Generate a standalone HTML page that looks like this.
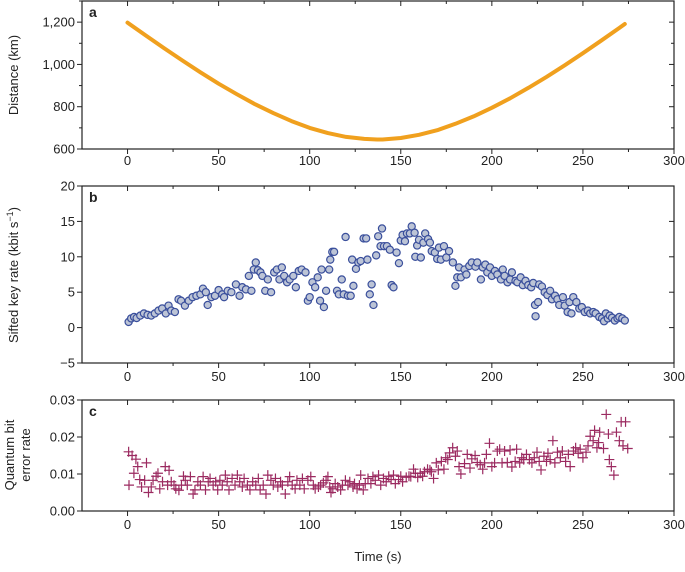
<!DOCTYPE html>
<html><head><meta charset="utf-8"><style>
html,body{margin:0;padding:0;background:#fff;}
svg text{font-family:"Liberation Sans",sans-serif;fill:#222;}
</style></head><body>
<svg id="chart" width="685" height="567" viewBox="0 0 685 567" xmlns="http://www.w3.org/2000/svg"></svg>
<script>
// Panel a: distance
const distT=[0,10,20,30,40,50,60,70,80,90,100,110,120,130,137,140,150,160,170,180,190,200,210,220,230,240,250,260,270,273];
const distV=[1198,1137,1077,1019,963,909,859,812,770,732,700,675,657,648,645,645,652,667,689,719,754,795,840,889,941,996,1053,1112,1173,1191];
// Panel b: sifted key rate
const keyT=[0.6,2,3.6,5,7,9,11,13,15,17,19,21,22.5,24,26,28,29.4,31.5,33.6,35.7,37.8,40,41.4,43,44,46,48,50,52,53,55,57,59.5,61.5,63,65,66.6,68,69.3,70.4,71.6,73,74,75.6,77,78.8,80.5,82,83.4,84.7,86,87.6,89,91,92.4,94,95.6,97.7,99,100,101.5,103,104.4,105.7,106.5,107.8,109,110.7,111.3,112.4,113.4,115,116,117.6,118.7,119.7,121,122.5,123.3,124,125.4,126.7,128,129.6,131,131.7,133,134,135,136.5,137.6,138.9,139.7,140.8,142.4,144,145,146,147.7,149,150,151,152.3,153.4,155,156,157.6,158,159,160,161,162.4,163.4,165,166,167,168.7,170,171,172,173.7,175,176.5,178.6,180,181,182,183,185,186,187.6,189,191,192,194,195,196.4,197.5,199,200,201.7,203,205,206,207,208.6,210,211,213,214,215.8,217,218.5,220,221.6,222.7,223.7,224,225.4,226,227.5,229,230.5,232,233,234.7,236,237,239,240,241.6,242.6,243.7,244.7,246.4,248,249.4,251,252.7,254,255.7,257,259,260.5,261.6,262.6,263.7,264.7,266,267.5,269,270,271.6,273];
const keyV=[0.8,1.3,1.5,1.35,1.7,2,1.8,1.7,2,2.4,2.7,2,3.1,2.4,2.2,4,3.8,3.1,3.8,4.3,4.5,4.7,5.5,5,3.2,4.3,4.5,5.3,4.7,4.3,5.2,5,6.1,4.5,5.7,5.4,7.3,5.2,8.2,9.2,8.1,7.8,7.3,5.2,6.8,5,7.8,8.2,6.8,8.5,7.3,6.4,6.8,7.3,5.7,8,8.2,7.8,3.8,4.3,6.4,5.7,7.1,3.8,8.2,2.9,5.2,8.2,9.6,10.7,10.7,5.2,4.7,6.8,4.7,12.8,4.5,4.5,9.6,5.9,8.3,9.2,9.4,12.6,12.6,9.6,4.7,6.1,3.2,10.2,12.9,11.5,14,11.5,11.5,11,6,5.7,10.6,9.1,12.3,13.1,12.2,13.3,13.3,14.3,13.4,10,11.6,12.4,9.9,12,13.3,12.5,12,10.8,10.6,9.7,11.3,9.6,11.5,9.9,10.8,9.2,5.9,7.1,8.5,7.1,8.2,7.5,8.7,9.2,8.6,9.2,6.8,8.5,8.9,7.8,8.5,7.3,8,7.5,6.8,8.2,7.3,6.4,6.8,7.8,6.6,6.4,7.1,6,6.6,6,5.7,6.3,3.2,1.6,3.6,6.1,5.8,5,4.6,5.2,4,4.5,4,3.2,4.3,3.1,2.2,3.6,2,4.3,3.6,2.7,2.9,2.2,2.4,2,2.2,2,1.5,1.3,0.9,2,1.3,1.7,1.4,1,1.3,1.5,1.3,1];
// Panel c: QBER
const qT=[0.6,0.8,2.5,3.5,4.6,5.6,6.7,7.7,9.4,10.4,11.5,13,14,15.7,16.7,17.7,19.2,20.7,22,22.8,24,25.5,26.5,28.2,29.6,30.7,31.7,32.8,34.5,36,37,38.6,40,41.5,42.8,44.3,45.3,47,48.4,49.5,50.7,52,53.7,54.7,55.7,57.4,59,60.3,61.6,63,64,65.8,67.2,68.7,70.4,71.8,72.8,74.5,76,77,78.7,80,81.2,82.5,84,85,86.6,88,89,90.4,92,93,94.6,96,97,99,100.6,102,103,104.8,106,107.5,109,110,111,111.7,112.7,114,115.4,117,118,119.6,121,122,123.8,124.6,126,127.3,128,129.4,130.5,132,133.6,134.7,136,137.8,139,140.5,142,143.4,144.7,146,147,148.8,150,151,153,154.5,155.5,157,158,159.3,160.7,162,163,164.7,166,166.8,168,169.5,170.6,172.3,173.7,174.7,175.8,176.8,178.5,180,181,182,183,185,186.5,188,189,190.8,192,193.6,195,196,197,198.7,200,201.5,203,204.3,205.6,207,208.5,210,211,212.8,213.6,215.3,216.4,217.5,219,220.6,222,223.3,224.8,226,227,228.6,230,230.8,232,233.5,234.6,236,237.6,238.7,240.5,242,243,244.8,246,247.4,248.5,250,251.7,252.8,254,255.6,256.4,257.7,258.6,259.2,261.3,262.8,264,264.5,265.6,267,268.4,270,271,272,273.4,274.6];
const qV=[0.016,0.007,0.015,0.0102,0.014,0.012,0.0085,0.0065,0.0083,0.013,0.005,0.0065,0.0083,0.0094,0.0102,0.006,0.0079,0.012,0.007,0.011,0.0079,0.007,0.006,0.0056,0.007,0.0094,0.0083,0.007,0.0093,0.0046,0.0057,0.0079,0.007,0.0093,0.0057,0.0079,0.0088,0.007,0.0079,0.0057,0.0083,0.007,0.0097,0.0079,0.0057,0.0088,0.007,0.0097,0.0079,0.0065,0.0088,0.007,0.0057,0.0079,0.007,0.0088,0.0057,0.007,0.0046,0.0097,0.0083,0.007,0.0088,0.0065,0.0079,0.007,0.0046,0.0079,0.0093,0.007,0.006,0.0083,0.007,0.0088,0.006,0.0083,0.0093,0.007,0.006,0.0065,0.007,0.0076,0.0083,0.0093,0.0065,0.005,0.006,0.0074,0.0065,0.0057,0.007,0.0083,0.007,0.0079,0.0065,0.0074,0.006,0.007,0.0097,0.0057,0.0074,0.0088,0.0074,0.0093,0.0083,0.0097,0.007,0.0088,0.0079,0.0094,0.0085,0.0097,0.0074,0.0085,0.0094,0.0079,0.0091,0.0094,0.0093,0.0113,0.0102,0.0091,0.0102,0.0094,0.0106,0.0113,0.0111,0.0106,0.0088,0.013,0.0111,0.0134,0.0113,0.0144,0.0139,0.0157,0.0171,0.0148,0.0162,0.012,0.01,0.0128,0.0153,0.0116,0.0141,0.015,0.0131,0.0125,0.0113,0.013,0.0153,0.0183,0.012,0.013,0.0162,0.0167,0.013,0.0162,0.0131,0.0165,0.0119,0.0134,0.0167,0.013,0.0144,0.0139,0.0153,0.0139,0.013,0.0144,0.0159,0.0134,0.0111,0.0148,0.0134,0.0156,0.0139,0.019,0.013,0.0159,0.0144,0.0162,0.0134,0.0153,0.012,0.0162,0.0171,0.0156,0.0167,0.0144,0.0159,0.0176,0.0202,0.019,0.0218,0.0171,0.0185,0.0213,0.0169,0.0261,0.0208,0.0139,0.012,0.0097,0.0213,0.019,0.0241,0.0176,0.0241,0.0169];
const xTicks=[0,50,100,150,200,250,300];
const aTicks=[600,800,1000,1200];
const aTickLabels=["600","800","1,000","1,200"];
const bTicks=[-5,0,5,10,15,20];
const bTickLabels=["\u22125","0","5","10","15","20"];
const cTicks=[0,0.01,0.02,0.03];
const cTickLabels=["0.00","0.01","0.02","0.03"];

const svg=document.getElementById('chart');
const NS='http://www.w3.org/2000/svg';
function mk(tag,attrs,parent){const e=document.createElementNS(NS,tag);for(const k in attrs)e.setAttribute(k,attrs[k]);(parent||svg).appendChild(e);return e;}
const X0=82,X1=674,XMIN=-25,XMAX=300;
function xs(t){return X0+(t-XMIN)/(XMAX-XMIN)*(X1-X0);}
function yScale(d0,d1,top,bot){return v=>bot-(v-d0)/(d1-d0)*(bot-top);}
const panels=[
 {id:'a',top:1,bot:149,d0:600,d1:1300,ticks:aTicks,labels:aTickLabels,minor:[700,900,1100,1300],xl:165},
 {id:'b',top:186,bot:363,d0:-5,d1:20,ticks:bTicks,labels:bTickLabels,minor:[],xl:381},
 {id:'c',top:400,bot:511,d0:0,d1:0.03,ticks:cTicks,labels:cTickLabels,minor:[],xl:529}
];
panels.forEach(p=>{
 p.ys=yScale(p.d0,p.d1,p.top,p.bot);
 const g=mk('g',{});
 
 
 const fr=mk('rect',{x:X0,y:p.top,width:X1-X0,height:p.bot-p.top,fill:'none',stroke:'#222','stroke-width':1.2},g);
 
 
 for(let t=0;t<=300;t+=25){
  const x=xs(t),len=(t%50===0)?5:3;
  mk('line',{x1:x,x2:x,y1:p.bot,y2:p.bot+len,stroke:'#222','stroke-width':1},g);
  mk('line',{x1:x,x2:x,y1:p.top,y2:p.top+len,stroke:'#222','stroke-width':1},g);
 }
 xTicks.forEach(t=>{
  const tx=mk('text',{x:xs(t),y:p.xl,'font-size':13,'text-anchor':'middle'},g);
  tx.textContent=String(t);
  
  
 });
 p.ticks.forEach((v,i)=>{
  const y=p.ys(v);
  mk('line',{x1:X0-5,x2:X0,y1:y,y2:y,stroke:'#222','stroke-width':1},g);
  mk('line',{x1:X1-5,x2:X1,y1:y,y2:y,stroke:'#222','stroke-width':1},g);
  const tx=mk('text',{x:X0-7,y:y+4.5,'font-size':13,'text-anchor':'end'},g);
  tx.textContent=p.labels[i];
  
  
 });
 p.minor.forEach(v=>{const y=p.ys(v);
  mk('line',{x1:X0-3,x2:X0,y1:y,y2:y,stroke:'#222','stroke-width':1},g);
  mk('line',{x1:X1-3,x2:X1,y1:y,y2:y,stroke:'#222','stroke-width':1},g);});
 const lt=mk('text',{x:X0+7,y:p.top+16,'font-size':14,'font-weight':'bold'},g);
 lt.textContent=p.id;
 
 
});
// series a
const pa=panels[0];
const path=mk('path',{d:distT.map((t,i)=>(i?'L':'M')+xs(t).toFixed(1)+','+pa.ys(distV[i]).toFixed(1)).join(''),fill:'none',stroke:'#f0a01e','stroke-width':4,'stroke-linecap':'round','stroke-linejoin':'round'});


// series b
const pb=panels[1];
keyT.forEach((t,i)=>{
 const c=mk('circle',{cx:xs(t),cy:pb.ys(keyV[i]),r:3.6,fill:'#bcc4d6',stroke:'#3a4f9c','stroke-width':1.2});
 
 
});
// series c
const pc=panels[2];
qT.forEach((t,i)=>{
 const x=xs(t),y=pc.ys(qV[i]);
 const pl=mk('path',{d:`M${x-5},${y}H${x+5}M${x},${y-5}V${y+5}`,stroke:'#9b2a60','stroke-width':1.2,fill:'none'});
 
 
});
// axis titles
function title(txt,x,y,rot,name){const t=mk('text',{x:x,y:y,'font-size':13,'text-anchor':'middle',transform:rot?`rotate(-90 ${x} ${y})`:''});t.textContent=txt;return t;}
title('Distance (km)',18,75,true,'y-axis-title-a');
const tb=title('',18,275,true,'y-axis-title-b');
tb.innerHTML='Sifted key rate (kbit s<tspan dy="-5" font-size="9">\u22121</tspan><tspan dy="5">)</tspan>';
title('Quantum bit',14,455,true,'y-axis-title-c-line1');
title('error rate',30,455,true,'y-axis-title-c-line2');
title('Time (s)',378,561,false,'x-axis-title');
</script>
</body></html>
